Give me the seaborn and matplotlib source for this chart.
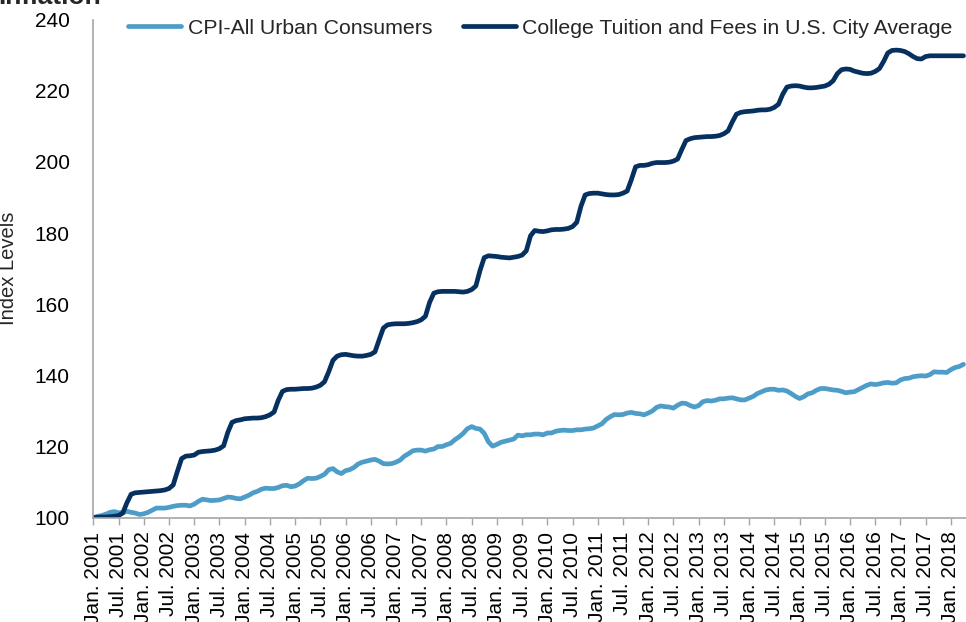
import numpy as np
import pandas as pd
import matplotlib
matplotlib.use("Agg")
import matplotlib.pyplot as plt
import seaborn as sns

# ---------------- data (monthly, Jan 2001 = 100) ----------------
cpi = [
    100.0, 100.4, 100.6, 101.0, 101.5, 101.7, 101.4, 101.4, 101.8, 101.5, 101.3, 100.9,  # 2001
    101.1, 101.5, 102.1, 102.7, 102.7, 102.7, 102.9, 103.2, 103.4, 103.5, 103.5, 103.3,  # 2002
    103.8, 104.6, 105.2, 105.0, 104.8, 104.9, 105.0, 105.4, 105.8, 105.7, 105.4, 105.3,  # 2003
    105.8, 106.3, 107.0, 107.4, 108.0, 108.3, 108.2, 108.2, 108.5, 109.0, 109.1, 108.7,  # 2004
    108.9, 109.5, 110.4, 111.1, 111.0, 111.1, 111.6, 112.2, 113.5, 113.8, 112.9, 112.4,  # 2005
    113.2, 113.5, 114.1, 115.1, 115.6, 115.9, 116.2, 116.4, 115.9, 115.2, 115.1, 115.2,  # 2006
    115.6, 116.2, 117.3, 118.0, 118.8, 119.0, 119.0, 118.7, 119.1, 119.3, 120.0, 120.0,  # 2007
    120.5, 120.9, 121.9, 122.7, 123.7, 125.0, 125.6, 125.1, 124.9, 123.7, 121.3, 120.1,  # 2008
    120.6, 121.2, 121.5, 121.8, 122.1, 123.2, 123.0, 123.3, 123.3, 123.5, 123.5, 123.3,  # 2009
    123.8, 123.8, 124.3, 124.5, 124.6, 124.5, 124.5, 124.7, 124.7, 124.9, 125.0, 125.2,  # 2010
    125.8, 126.4, 127.6, 128.4, 129.0, 128.9, 129.0, 129.4, 129.6, 129.3, 129.2, 128.9,  # 2011
    129.4, 130.0, 131.0, 131.4, 131.2, 131.1, 130.8, 131.6, 132.2, 132.1, 131.5, 131.1,  # 2012
    131.5, 132.6, 132.9, 132.8, 133.0, 133.4, 133.4, 133.6, 133.7, 133.4, 133.1, 133.1,  # 2013
    133.6, 134.1, 134.9, 135.4, 135.9, 136.1, 136.1, 135.8, 135.9, 135.6, 134.9, 134.1,  # 2014
    133.5, 134.0, 134.8, 135.1, 135.8, 136.3, 136.3, 136.1, 135.9, 135.8, 135.5, 135.1,  # 2015
    135.3, 135.4, 136.0, 136.6, 137.2, 137.6, 137.4, 137.6, 137.9, 138.0, 137.8, 137.9,  # 2016
    138.7, 139.1, 139.2, 139.6, 139.8, 139.9, 139.8, 140.2, 141.0, 140.9, 140.9, 140.8,  # 2017
    141.6, 142.2, 142.5, 143.1,                                                          # 2018
]

tuition = [
    100.0, 100.1, 100.2, 100.2, 100.3, 100.4, 100.6, 101.3, 104.2, 106.6, 107.0, 107.1,  # 2001
    107.2, 107.3, 107.4, 107.5, 107.6, 107.8, 108.2, 109.2, 113.0, 116.6, 117.3, 117.4,  # 2002
    117.6, 118.4, 118.6, 118.7, 118.8, 119.0, 119.4, 120.2, 124.0, 126.8, 127.3, 127.5,  # 2003
    127.8, 127.9, 128.0, 128.0, 128.1, 128.4, 128.9, 129.7, 133.0, 135.5, 136.0, 136.1,  # 2004
    136.1, 136.2, 136.3, 136.3, 136.4, 136.7, 137.2, 138.2, 141.0, 144.2, 145.4, 145.8,  # 2005
    145.9, 145.7, 145.5, 145.4, 145.4, 145.6, 145.9, 146.6, 150.0, 153.3, 154.2, 154.4,  # 2006
    154.5, 154.5, 154.5, 154.6, 154.8, 155.1, 155.6, 156.6, 160.5, 163.1, 163.5, 163.6,  # 2007
    163.6, 163.6, 163.6, 163.5, 163.4, 163.6, 164.1, 165.1, 169.5, 173.1, 173.6, 173.5,  # 2008
    173.4, 173.2, 173.1, 173.0, 173.2, 173.4, 173.8, 175.0, 179.2, 180.7, 180.5, 180.4,  # 2009
    180.6, 180.9, 181.0, 181.0, 181.1, 181.3, 181.8, 183.0, 187.5, 190.7, 191.1, 191.2,  # 2010
    191.2, 191.0, 190.8, 190.7, 190.7, 190.8, 191.2, 191.8, 195.0, 198.6, 199.0, 199.0,  # 2011
    199.2, 199.6, 199.8, 199.8, 199.8, 199.9, 200.2, 200.8, 203.5, 206.0, 206.5, 206.8,  # 2012
    206.9, 207.0, 207.1, 207.1, 207.2, 207.4, 207.9, 208.7, 211.2, 213.4, 213.9, 214.1,  # 2013
    214.2, 214.3, 214.5, 214.6, 214.6, 214.8, 215.3, 216.2, 219.0, 221.0, 221.3, 221.4,  # 2014
    221.3, 221.0, 220.8, 220.8, 220.9, 221.1, 221.3, 221.8, 222.8, 224.8, 225.9, 226.1,  # 2015
    226.0, 225.5, 225.2, 224.9, 224.8, 224.9, 225.4, 226.2, 228.2, 230.6, 231.3, 231.4,  # 2016
    231.3, 231.0, 230.4, 229.6, 229.0, 228.9, 229.6, 229.8, 229.8, 229.8, 229.8, 229.8,  # 2017
    229.8, 229.8, 229.8, 229.8,                                                          # 2018
]

series_names = ["CPI-All Urban Consumers",
                "College Tuition and Fees in U.S. City Average"]
series_colors = ["#4E9DC9", "#06305F"]

y_ticks = [100, 120, 140, 160, 180, 200, 220, 240]
tick_years = list(range(2001, 2019))
tick_labels = []
for yr in tick_years:
    tick_labels += [f"Jan. {yr}", f"Jul. {yr}"]
tick_labels = tick_labels[:-1]          # last label is "Jan. 2018"
tick_step = 6                            # months between labels

title_text = "Inflation"
y_label = "Index Levels"

# ---------------- build tidy frame ----------------
month_idx = np.arange(len(cpi))
df = pd.concat([
    pd.DataFrame({"month": month_idx, "value": cpi, "series": series_names[0]}),
    pd.DataFrame({"month": month_idx, "value": tuition, "series": series_names[1]}),
], ignore_index=True)

# ---------------- styling ----------------
sns.set_style("white")
plt.rcParams["font.family"] = ["Liberation Sans", "DejaVu Sans"]

W, H = 966, 622
fig = plt.figure(figsize=(W / 100, H / 100), dpi=100)
ax = fig.add_axes([93.3 / W, 1 - 517.7 / H, 1 - 93.3 / W, (517.7 - 19.5) / H])

sns.lineplot(data=df, x="month", y="value", hue="series",
             palette=dict(zip(series_names, series_colors)),
             hue_order=series_names, linewidth=3.4, estimator=None,
             legend=False, ax=ax)
for ln in ax.get_lines():
    ln.set_solid_joinstyle("round")
    ln.set_solid_capstyle("round")

ax.set_xlim(0, 207.6)
ax.set_ylim(y_ticks[0], y_ticks[-1])
ax.set_yticks(y_ticks)
ax.set_xticks(np.arange(len(tick_labels)) * tick_step)
ax.set_xticklabels(tick_labels, rotation=90, va="top", ha="center")

ax.tick_params(axis="x", which="major", direction="out", length=5, width=1,
               color="#A6A6A6", pad=5, labelsize=15, labelcolor="black", bottom=True)
ax.tick_params(axis="y", length=0, pad=17, labelsize=15, labelcolor="black")

for side in ["top", "right"]:
    ax.spines[side].set_visible(False)
for side in ["left", "bottom"]:
    ax.spines[side].set_color("#A6A6A6")
    ax.spines[side].set_linewidth(1.2)

ax.set_xlabel("")
ax.set_ylabel(y_label, fontsize=14.5)
ax.yaxis.set_label_coords(-(93.3 - 18) / (W - 93.3), 0.5)

handles = ax.get_lines()[:2]
leg = fig.legend(handles, series_names, loc="center left",
                 bbox_to_anchor=(128 / W, 1 - 28 / H), ncol=2, frameon=False,
                 fontsize=15.3, handlelength=2.5, handletextpad=0.3,
                 columnspacing=1.45, borderpad=0, borderaxespad=0)

# title is partly above the top edge in the reference as well
fig.text(-0.002, 1 - 4.5 / H, title_text, fontsize=19, fontweight="bold",
         va="baseline", ha="left")

fig.savefig("out.png", dpi=100)
